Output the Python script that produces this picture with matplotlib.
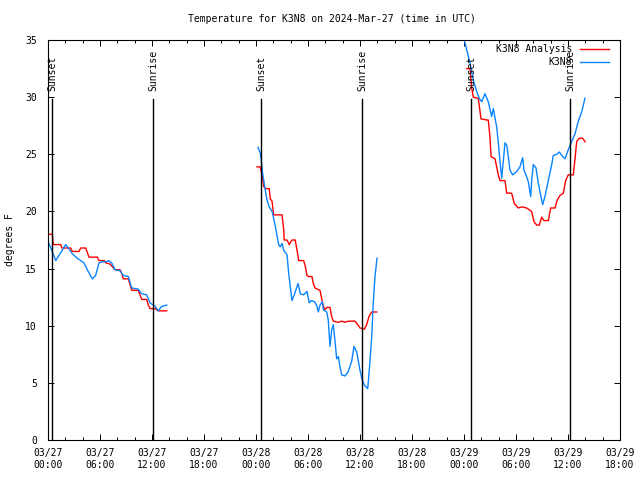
import matplotlib
matplotlib.use('Agg')
import matplotlib.pyplot as plt
from matplotlib.ticker import MultipleLocator

plt.rcParams['font.family'] = 'DejaVu Sans Mono'
plt.rcParams['font.size'] = 7

# time axis: hours since 03/27 00:00 UTC
tick_hours = [0, 6, 12, 18, 24, 30, 36, 42, 48, 54, 60, 66]
tick_labels = ['03/27\n00:00', '03/27\n06:00', '03/27\n12:00', '03/27\n18:00',
               '03/28\n00:00', '03/28\n06:00', '03/28\n12:00', '03/28\n18:00',
               '03/29\n00:00', '03/29\n06:00', '03/29\n12:00', '03/29\n18:00']

sunset = [0.5, 24.6, 48.8]
sunrise = [12.15, 36.25, 60.23]

# K3N8 Analysis (red)
ana_t1 = [0, 0.5, 0.6, 1.47, 1.6, 2.62, 2.8, 3.58, 3.77, 4.35, 4.73, 5.69, 5.88, 6.5,
          6.66, 7.15, 7.73, 8.31, 8.5, 8.69, 9.27, 9.46, 9.66, 10.42, 10.62, 10.81,
          11.39, 11.57, 11.77, 12.35, 12.73, 13.7]
ana_v1 = [18.0, 18.0, 17.1, 17.1, 16.8, 16.8, 16.5, 16.5, 16.8, 16.8, 16.0, 16.0, 15.7, 15.7,
          15.5, 15.4, 14.9, 14.9, 14.6, 14.1, 14.1, 13.6, 13.1, 13.1, 12.7, 12.3,
          12.3, 11.8, 11.5, 11.5, 11.3, 11.3]

ana_t2 = [24.11, 24.5, 24.69, 24.89, 25.07, 25.53, 25.65, 25.85, 26.04, 27.0, 27.2, 27.25,
          27.58, 27.84, 28.15, 28.53, 28.73, 28.93, 29.5, 29.69, 29.88, 30.08, 30.46, 30.61,
          30.81, 31.38, 31.77, 31.96, 32.16, 32.54, 32.73, 32.92, 33.5, 33.89, 34.27, 34.65,
          35.42, 35.73, 36.0, 36.5, 36.77, 37.04, 37.35, 37.93]
ana_v2 = [23.9, 23.9, 23.2, 22.2, 22.0, 22.0, 21.1, 20.9, 19.7, 19.7, 18.4, 17.5,
          17.5, 17.1, 17.5, 17.5, 16.6, 15.7, 15.7, 15.2, 14.4, 14.3, 14.3, 13.7,
          13.3, 13.1, 11.7, 11.4, 11.6, 11.6, 10.8, 10.4, 10.3, 10.4, 10.3, 10.4,
          10.4, 10.1, 9.8, 9.7, 10.1, 10.8, 11.2, 11.2]

ana_t3 = [48.31, 48.69, 48.89, 49.07, 49.65, 49.96, 50.62, 50.8, 51.0, 51.12, 51.58, 51.96,
          52.15, 52.73, 52.93, 53.5, 53.8, 54.26, 54.66, 55.23, 55.81, 56.07, 56.39, 56.69,
          56.96, 57.23, 57.73, 58.0, 58.5, 58.76, 59.08, 59.46, 59.73, 60.03, 60.61, 60.81,
          61.0, 61.3, 61.7, 61.96]
ana_v3 = [32.5, 32.5, 30.8, 30.0, 29.9, 28.1, 28.0, 28.0, 26.5, 24.8, 24.6, 23.2,
          22.7, 22.7, 21.6, 21.6, 20.7, 20.3, 20.4, 20.3, 20.0, 19.1, 18.8, 18.8,
          19.5, 19.2, 19.2, 20.3, 20.3, 21.0, 21.4, 21.6, 22.7, 23.2, 23.2, 24.6,
          26.1, 26.4, 26.4, 26.1]

# K3N8 observations (blue)
obs_t1 = [0, 0.9, 2.04, 2.8, 3.38, 4.15, 4.53, 5.11, 5.5, 5.88, 6.27, 6.84, 6.96, 7.35,
          7.73, 8.31, 8.69, 9.27, 9.66, 10.42, 10.81, 11.39, 11.77, 12.35, 12.73, 13.12, 13.7]
obs_v1 = [17.4, 15.7, 17.1, 16.3, 15.9, 15.5, 14.9, 14.1, 14.4, 15.5, 15.6, 15.6, 15.7, 15.5,
          14.9, 14.8, 14.4, 14.3, 13.3, 13.2, 12.8, 12.7, 12.0, 11.7, 11.3, 11.7, 11.8]

obs_t2 = [24.23, 24.5, 24.61, 24.77, 25.0, 25.27, 25.53, 25.85, 26.04, 26.23, 26.42, 26.62,
          26.8, 27.0, 27.2, 27.58, 27.77, 27.96, 28.15, 28.46, 28.85, 29.11, 29.5, 29.88,
          30.15, 30.38, 30.73, 31.0, 31.19, 31.38, 31.65, 31.77, 32.16, 32.34, 32.54, 32.73,
          32.92, 33.11, 33.31, 33.5, 33.69, 33.89, 34.27, 34.65, 35.04, 35.31, 35.62, 36.0,
          36.2, 36.5, 36.89, 37.07, 37.35, 37.53, 37.73, 37.96]
obs_v2 = [25.6, 25.1, 24.5, 23.3, 22.2, 21.0, 20.4, 20.0, 19.4, 18.7, 17.9, 17.1,
          16.9, 17.2, 16.6, 16.2, 14.6, 13.4, 12.2, 12.8, 13.7, 12.8, 12.7, 13.0,
          12.0, 12.2, 12.1, 11.8, 11.2, 11.8, 12.1, 11.4, 11.2, 10.5, 8.2, 9.6,
          10.1, 8.7, 7.1, 7.3, 6.4, 5.7, 5.6, 6.0, 6.9, 8.2, 7.7, 6.1,
          5.4, 4.8, 4.5, 6.1, 9.0, 12.0, 14.3, 15.9]

obs_t3 = [47.7, 48.69, 49.07, 49.46, 49.76, 50.04, 50.42, 50.8, 51.19, 51.38, 51.77, 51.96,
          52.15, 52.35, 52.73, 52.93, 53.11, 53.31, 53.62, 54.08, 54.46, 54.77, 54.92, 55.15,
          55.42, 55.7, 55.81, 56.0, 56.31, 56.57, 56.85, 57.08, 57.34, 57.73, 58.12, 58.3,
          58.7, 58.99, 59.39, 59.65, 60.03, 60.42, 60.81, 61.19, 61.58, 61.96]
obs_v3 = [36.0, 33.0, 31.5, 30.5, 29.9, 29.6, 30.3, 29.6, 28.3, 29.0, 27.4, 26.0,
          24.4, 22.9, 26.0, 25.8, 24.8, 23.6, 23.2, 23.5, 23.9, 24.7, 23.6, 23.2,
          22.6, 21.3, 22.7, 24.1, 23.8, 22.5, 21.4, 20.6, 21.3, 22.7, 24.1, 24.9,
          25.0, 25.2, 24.8, 24.6, 25.4, 26.1, 26.8, 27.9, 28.7, 29.9]

red = '#ff0000'
blue = '#0a84ff'

fig = plt.figure(figsize=(6.4, 4.8), dpi=100)
ax = fig.add_axes([48 / 640, 40 / 480, 572 / 640, 400 / 480])

for t, v in [(ana_t1, ana_v1), (ana_t2, ana_v2), (ana_t3, ana_v3)]:
    ax.plot(t, v, color=red, lw=1.0)
for t, v in [(obs_t1, obs_v1), (obs_t2, obs_v2), (obs_t3, obs_v3)]:
    ax.plot(t, v, color=blue, lw=1.0)

for h in sunset:
    ax.plot([h, h], [0, 29.8], color='black', lw=1.0)
    ax.text(h, 30.5, 'Sunset', rotation=90, ha='center', va='bottom')
for h in sunrise:
    ax.plot([h, h], [0, 29.8], color='black', lw=1.0)
    ax.text(h, 30.5, 'Sunrise', rotation=90, ha='center', va='bottom')

ax.set_xlim(0, 66)
ax.set_ylim(0, 35)
ax.set_xticks(tick_hours)
ax.set_xticklabels(tick_labels)
ax.xaxis.set_minor_locator(MultipleLocator(2))
ax.yaxis.set_major_locator(MultipleLocator(5))
ax.tick_params(which='both', direction='in', top=True, right=True, width=0.7)
ax.tick_params(which='major', length=4, pad=6)
ax.tick_params(which='minor', length=2)
ax.tick_params(axis='y', pad=8)
for s in ax.spines.values():
    s.set_linewidth(0.8)

# key, top right, no box
ax.text(0.916, 0.977, 'K3N8 Analysis', transform=ax.transAxes, ha='right', va='center')
ax.plot([0.930, 0.981], [0.977, 0.977], transform=ax.transAxes, color=red, lw=1.0)
ax.text(0.916, 0.944, 'K3N8', transform=ax.transAxes, ha='right', va='center')
ax.plot([0.930, 0.981], [0.944, 0.944], transform=ax.transAxes, color=blue, lw=1.0)

fig.text(332 / 640, 1 - 19 / 480, 'Temperature for K3N8 on 2024-Mar-27 (time in UTC)',
         ha='center', va='center')
fig.text(10 / 640, 0.5, 'degrees F', rotation=90, ha='center', va='center')

fig.savefig('out.png', dpi=100)
